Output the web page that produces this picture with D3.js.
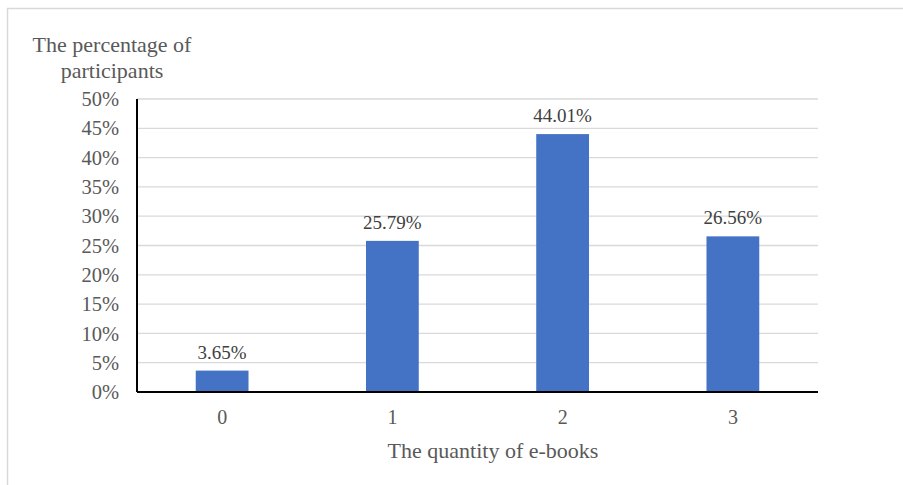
<!DOCTYPE html>
<html lang="en">
<head>
  <meta charset="UTF-8">
  <title>E-books bar chart</title>
  <script src="https://d3js.org/d3.v7.min.js"></script>
  <style>
    body { margin: 0; padding: 0; background: #fff; }
  </style>
</head>
<body>
<svg id="chart" width="903" height="485"></svg>
<script>
// data
const categories = ["0", "1", "2", "3"];
const values = [3.65, 25.79, 44.01, 26.56];
const yTicks = [0, 5, 10, 15, 20, 25, 30, 35, 40, 45, 50];

const width = 903, height = 485;
const margin = { top: 99, right: 85, bottom: 93, left: 137 };
const serif = "'Liberation Serif', 'Times New Roman', Tinos, 'DejaVu Serif', serif";

const svg = d3.select("#chart")
  .attr("font-family", serif);

// outer frame
svg.append("rect")
  .attr("x", 7.5).attr("y", 8.5)
  .attr("width", width).attr("height", height)
  .attr("fill", "none")
  .attr("stroke", "#d9d9d9")
  .attr("stroke-width", 1.5);

const x = d3.scaleBand()
  .domain(categories)
  .range([margin.left, width - margin.right])
  .paddingInner(0.69)
  .paddingOuter(0.345);

const y = d3.scaleLinear()
  .domain([0, 50])
  .range([height - margin.bottom, margin.top]);

// grid lines
svg.append("g")
  .selectAll("line")
  .data(yTicks.filter(d => d > 0))
  .enter().append("line")
  .attr("x1", margin.left).attr("x2", width - margin.right)
  .attr("y1", d => y(d)).attr("y2", d => y(d))
  .attr("stroke", "#d9d9d9")
  .attr("stroke-width", 1.3);

// y tick labels
svg.append("g")
  .selectAll("text")
  .data(yTicks)
  .enter().append("text")
  .attr("x", margin.left - 18)
  .attr("y", d => y(d))
  .attr("dy", "0.35em")
  .attr("text-anchor", "end")
  .attr("font-family", serif)
  .attr("font-size", 20.5)
  .attr("fill", "#595959")
  .text(d => d + "%");

// bars
svg.append("g")
  .selectAll("rect")
  .data(values)
  .enter().append("rect")
  .attr("x", (d, i) => x(categories[i]))
  .attr("y", d => y(d))
  .attr("width", x.bandwidth())
  .attr("height", d => y(0) - y(d))
  .attr("fill", "#4472c4");

// value labels
svg.append("g")
  .selectAll("text")
  .data(values)
  .enter().append("text")
  .attr("x", (d, i) => x(categories[i]) + x.bandwidth() / 2)
  .attr("y", d => y(d) - 12)
  .attr("text-anchor", "middle")
  .attr("font-family", serif)
  .attr("font-size", 19)
  .attr("fill", "#404040")
  .text(d => d.toFixed(2) + "%");

// axes lines
svg.append("line")
  .attr("x1", margin.left).attr("x2", margin.left)
  .attr("y1", y(50)).attr("y2", y(0))
  .attr("stroke", "#000").attr("stroke-width", 2);
svg.append("line")
  .attr("x1", margin.left).attr("x2", width - margin.right)
  .attr("y1", y(0)).attr("y2", y(0))
  .attr("stroke", "#000").attr("stroke-width", 2);

// x tick labels
svg.append("g")
  .selectAll("text")
  .data(categories)
  .enter().append("text")
  .attr("x", d => x(d) + x.bandwidth() / 2)
  .attr("y", y(0) + 32)
  .attr("text-anchor", "middle")
  .attr("font-family", serif)
  .attr("font-size", 20)
  .attr("fill", "#595959")
  .text(d => d);

// axis titles
svg.append("text")
  .attr("x", 493).attr("y", 458)
  .attr("text-anchor", "middle")
  .attr("font-family", serif)
  .attr("font-size", 22)
  .attr("fill", "#595959")
  .text("The quantity of e-books");

const yTitle = svg.append("text")
  .attr("text-anchor", "middle")
  .attr("font-family", serif)
  .attr("font-size", 22)
  .attr("fill", "#595959");
yTitle.append("tspan").attr("x", 112).attr("y", 52).text("The percentage of");
yTitle.append("tspan").attr("x", 112).attr("y", 78).text("participants");
</script>
</body>
</html>
